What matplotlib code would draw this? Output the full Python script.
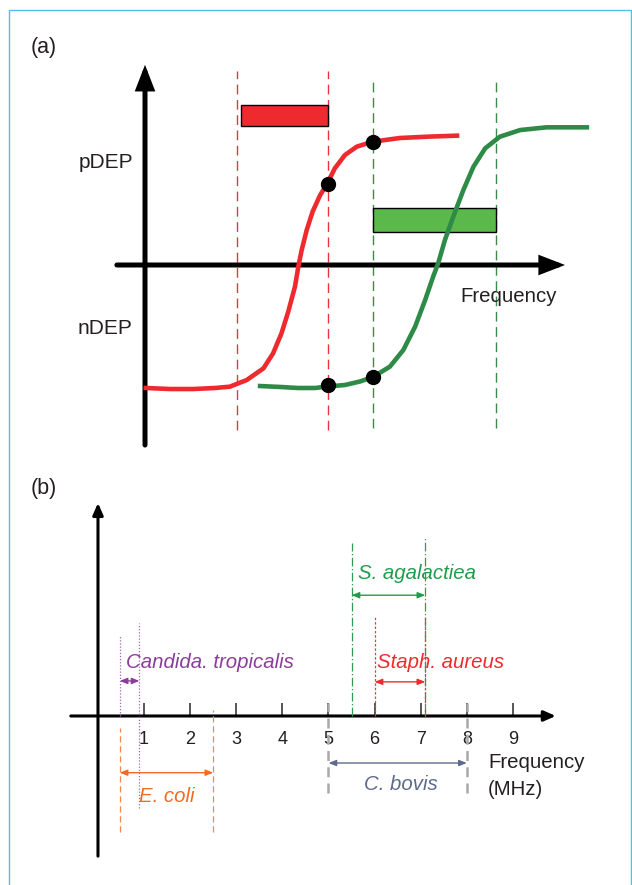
import matplotlib
matplotlib.use('Agg')
import matplotlib.pyplot as plt
from matplotlib.patches import Rectangle
from matplotlib.lines import Line2D

plt.rcParams['font.family'] = ['Liberation Sans', 'DejaVu Sans']

TXT = '#231F20'

# ---- panel (a): schematic CM factor curves (arbitrary units) ----
red_x = [0.02, 0.60, 1.15, 1.67, 2.02, 2.42, 2.82, 3.05, 3.25, 3.41, 3.57, 3.65,
         3.73, 3.85, 3.99, 4.17, 4.33, 4.52, 4.76, 5.04, 5.41, 6.07, 6.79, 7.43]
red_y = [-0.946, -0.954, -0.954, -0.946, -0.936, -0.885, -0.795, -0.679, -0.525,
         -0.359, -0.167, -0.013, 0.115, 0.269, 0.410, 0.538, 0.621, 0.744, 0.846,
         0.910, 0.948, 0.977, 0.988, 0.995]
green_x = [2.74, 3.21, 3.64, 4.05, 4.33, 4.76, 5.12, 5.44, 5.83, 6.15, 6.43, 6.67,
           6.86, 6.98, 7.14, 7.34, 7.58, 7.82, 8.10, 8.45, 8.93, 9.56, 10.52]
green_y = [-0.931, -0.938, -0.946, -0.946, -0.935, -0.923, -0.896, -0.859, -0.782,
           -0.654, -0.475, -0.269, -0.090, 0.013, 0.192, 0.372, 0.577, 0.756, 0.898,
           0.987, 1.038, 1.059, 1.059]
red_band = [2.18, 4.36]
green_band = [5.44, 8.36]
red_dots_x = [4.36, 5.43]
red_dots_y = [0.62, 0.95]
green_dots_x = [4.36, 5.43]
green_dots_y = [-0.92, -0.86]

# ---- panel (b): frequency windows per organism (MHz) ----
species = ['Candida. tropicalis', 'E. coli', 'C. bovis', 'S. agalactiea', 'Staph. aureus']
f_low = [0.47, 0.47, 5.0, 5.5, 6.0]
f_high = [0.9, 2.5, 8.0, 7.1, 7.1]
freq_ticks = [1, 2, 3, 4, 5, 6, 7, 8, 9]

# drawing layout for panel (b): line extents, arrow height, label anchor
layout = {
    'Candida. tropicalis': dict(left=(0.0, 1.75), right=(-1.99, 2.01), arrow=0.76,
                                label=(0.60, 1.17, 'left'), color='#8B3D9A',
                                line='#A466B4', ls=(0, (1, 1.5)), lw=0.9),
    'E. coli': dict(left=(-2.52, -0.26), right=(-2.52, 0.13), arrow=-1.23,
                    label=(0.90, -1.75, 'left'), color='#F26B21',
                    line='#F5894A', ls=(0, (5, 3)), lw=0.9),
    'C. bovis': dict(left=(-1.67, 0.28), right=(-1.67, 0.28), arrow=-1.02,
                     label=(6.56, -1.49, 'center'), color='#5E6B8C',
                     line='#A9A9A9', ls=(0, (4, 2.5)), lw=1.8),
    'S. agalactiea': dict(left=(0.0, 3.75), right=(0.0, 3.88), arrow=2.62,
                          label=(5.64, 3.10, 'left'), color='#1E9E4C',
                          line='#2E9B4E', ls=(0, (7, 2, 1, 2)), lw=0.9),
    'Staph. aureus': dict(left=(0.0, 2.14), right=(0.0, 2.14), arrow=0.74,
                          label=(6.05, 1.17, 'left'), color='#EE2A2F',
                          line='#EE3A3A', ls=(0, (2, 1.5)), lw=0.9),
}

W, H = 632, 885
fig = plt.figure(figsize=(W / 100, H / 100), dpi=100)


def px_axes(x0, y0, x1, y1):
    return fig.add_axes([x0 / W, 1 - y1 / H, (x1 - x0) / W, (y1 - y0) / H])


# light blue frame (open at the bottom)
fig.add_artist(Line2D([8.5 / W, 8.5 / W, 631 / W, 631 / W],
                      [0, 1 - 9.5 / H, 1 - 9.5 / H, 0],
                      color='#4EC3EA', lw=1.0))

# ================= panel (a) =================
ax = px_axes(60, 55, 610, 455)
ax.set_xlim(-2.024, 11.071)
ax.set_ylim(-1.4615, 1.6154)
ax.axis('off')

big_arrow = dict(arrowstyle='-|>,head_length=0.62,head_width=0.24', mutation_scale=20,
                 lw=3.6, color='black', shrinkA=0, shrinkB=0, joinstyle='miter')
ax.annotate('', xy=(0, 1.54), xytext=(0, -1.385), arrowprops=big_arrow, zorder=2)
ax.annotate('', xy=(10.0, 0), xytext=(-0.67, 0), arrowprops=big_arrow, zorder=2)

for xb in red_band:
    ax.plot([xb, xb], [-1.27, 1.49], color='#E8343C', lw=1.0, ls=(0, (7, 4)), zorder=1)
for xb in green_band:
    ax.plot([xb, xb], [-1.25, 1.43], color='#3A8A4A', lw=1.0, ls=(0, (7, 4)), zorder=1)

ax.add_patch(Rectangle((2.29, 1.07), red_band[1] - 2.29, 0.16,
                       fc='#EE2A2F', ec='black', lw=1.0, zorder=2))
ax.add_patch(Rectangle((green_band[0], 0.256), green_band[1] - green_band[0], 0.18,
                       fc='#5BB84B', ec='black', lw=1.0, zorder=2))

ax.plot(red_x, red_y, color='#EE2A2F', lw=3.3, zorder=3)
ax.plot(green_x, green_y, color='#2E8B47', lw=3.3, zorder=3)
ax.plot(red_dots_x, red_dots_y, 'o', ms=10, color='black', zorder=5)
ax.plot(green_dots_x, green_dots_y, 'o', ms=10, color='black', zorder=5)

ax.text(-0.29, 0.785, 'pDEP', ha='right', va='center', fontsize=15, color=TXT)
ax.text(-0.29, -0.49, 'nDEP', ha='right', va='center', fontsize=15, color=TXT)
ax.text(7.52, -0.246, 'Frequency', ha='left', va='center', fontsize=14.7, color=TXT)

# ================= panel (b) =================
bx = px_axes(60, 490, 610, 870)
bx.set_xlim(-0.824, 11.106)
bx.set_ylim(-3.341, 4.902)
for side in ['left', 'right', 'top']:
    bx.spines[side].set_visible(False)
bx.spines['bottom'].set_position(('data', 0))
bx.spines['bottom'].set_visible(False)
bx.set_facecolor('none')
bx.set_yticks([])
bx.set_xticks(freq_ticks)
bx.tick_params(axis='x', direction='in', length=9.5, width=1.2, color='#3A3A3A',
               labelsize=13, labelcolor=TXT, pad=11)

small_arrow = dict(arrowstyle='-|>,head_length=0.5,head_width=0.22', mutation_scale=14,
                   lw=2.2, color='black', shrinkA=0, shrinkB=0)
bx.annotate('', xy=(9.93, 0), xytext=(-0.59, 0), arrowprops=small_arrow, zorder=2)
bx.annotate('', xy=(0, 4.62), xytext=(0, -3.04), arrowprops=small_arrow, zorder=2)

for name, lo, hi in zip(species, f_low, f_high):
    st = layout[name]
    bx.plot([lo, lo], st['left'], color=st['line'], lw=st['lw'], ls=st['ls'], zorder=3)
    bx.plot([hi, hi], st['right'], color=st['line'], lw=st['lw'], ls=st['ls'], zorder=3)
    bx.annotate('', xy=(hi, st['arrow']), xytext=(lo, st['arrow']),
                arrowprops=dict(arrowstyle='<|-|>,head_length=0.45,head_width=0.18',
                                mutation_scale=10, lw=1.0, color=st['color'],
                                shrinkA=0, shrinkB=0), zorder=3)
    lx, ly, ha = st['label']
    bx.text(lx, ly, name, ha=ha, va='center', fontsize=14.7, style='italic',
            color=st['color'])

bx.text(8.46, -1.0, 'Frequency', ha='left', va='center', fontsize=14.7, color=TXT)
bx.text(8.46, -1.6, '(MHz)', ha='left', va='center', fontsize=14.7, color=TXT)

fig.text(31 / W, 1 - 47 / H, '(a)', ha='left', va='center', fontsize=15.5, color=TXT)
fig.text(31 / W, 1 - 489 / H, '(b)', ha='left', va='center', fontsize=15.5, color=TXT)

fig.savefig('out.png', dpi=100)
